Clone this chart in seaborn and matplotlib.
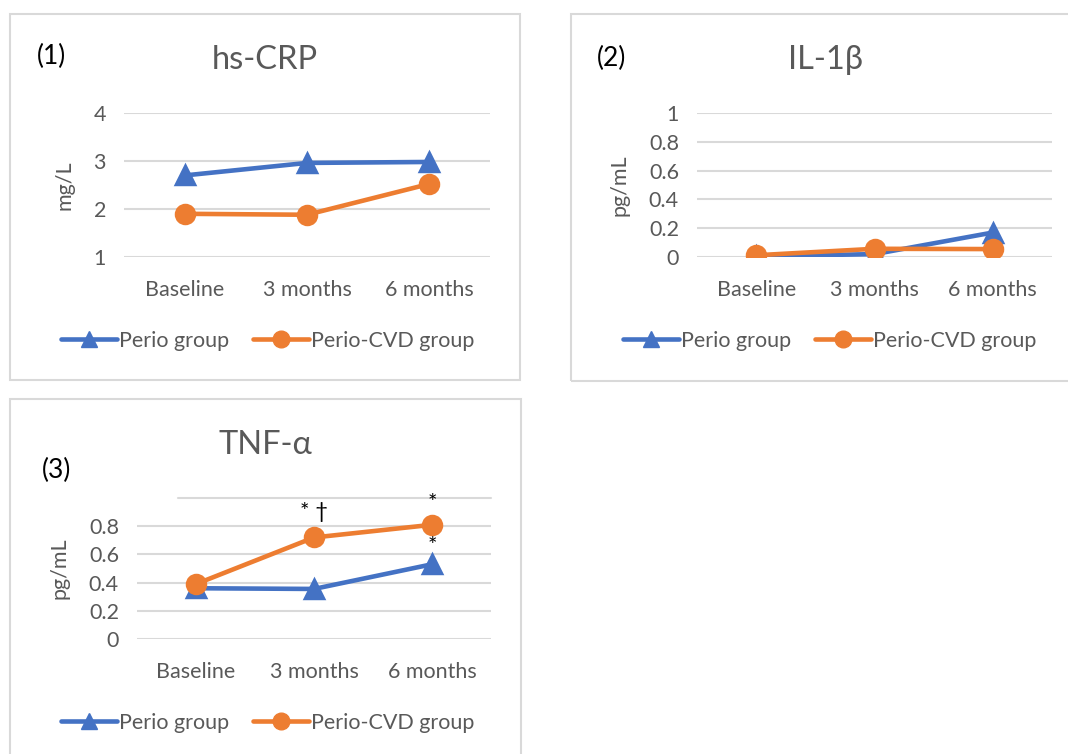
#!/usr/bin/env python3
"""
Inflammatory markers over time: Perio vs Perio-CVD group
"""

import pandas as pd
import matplotlib
matplotlib.use('Agg')
import matplotlib.pyplot as plt
import seaborn as sns
from matplotlib.lines import Line2D
from matplotlib.patches import Rectangle

sns.set_theme(style='white')
plt.rcParams['font.family'] = ['Lato', 'DejaVu Sans']

# Data
timepoints = ['Baseline', '3 months', '6 months']
groups = ['Perio group', 'Perio-CVD group']

crp_perio = [2.70, 2.96, 2.98]
crp_cvd = [1.90, 1.88, 2.52]

il1b_perio = [0.005, 0.02, 0.17]
il1b_cvd = [0.012, 0.057, 0.055]

tnf_perio = [0.36, 0.355, 0.53]
tnf_cvd = [0.39, 0.72, 0.81]

BLUE = '#4472C4'
ORANGE = '#ED7D31'
GRID = '#D9D9D9'
TXT = '#595959'

W, H = 1068, 754
FS = 15.5


def px_axes(fig, left, top, right, bottom):
    return fig.add_axes([left / W, 1 - bottom / H, (right - left) / W, (bottom - top) / H])


def long_df(perio, cvd):
    return pd.DataFrame({
        'time': timepoints * 2,
        'value': list(perio) + list(cvd),
        'group': [groups[0]] * 3 + [groups[1]] * 3,
    })


def draw_panel(fig, ax, df, yticks, yticklabels, ylim, ylabel):
    sns.pointplot(data=df, x='time', y='value', hue='group', order=timepoints,
                  hue_order=groups, palette=[BLUE, ORANGE], markers=['^', 'o'],
                  linestyles=['-', '-'], markersize=13, linewidth=3.3,
                  errorbar=None, legend=False, ax=ax)
    ax.set_xlim(-0.5, 2.5)
    ax.set_ylim(*ylim)
    ax.set_yticks(yticks)
    ax.set_yticklabels(yticklabels)
    ax.yaxis.grid(True, color=GRID, linewidth=1.5)
    ax.set_axisbelow(True)
    for s in ax.spines.values():
        s.set_visible(False)
    ax.tick_params(axis='x', length=0, pad=16.5, labelsize=FS, labelcolor=TXT)
    ax.tick_params(axis='y', length=0, pad=13, labelsize=FS, labelcolor=TXT)
    ax.set_xlabel('')
    ax.set_ylabel(ylabel, fontsize=FS, color=TXT, labelpad=14)
    for line in ax.lines:
        line.set_solid_capstyle('round')


def panel_box(fig, left, top, right, bottom):
    fig.patches.append(Rectangle((left / W, 1 - bottom / H), (right - left) / W,
                                 (bottom - top) / H, transform=fig.transFigure,
                                 fill=False, edgecolor=GRID, linewidth=1.5))


def legend(fig, cx, cy):
    handles = [
        Line2D([], [], color=BLUE, marker='^', markersize=12, linewidth=3.3),
        Line2D([], [], color=ORANGE, marker='o', markersize=12, linewidth=3.3),
    ]
    fig.legend(handles, groups, loc='center', bbox_to_anchor=(cx / W, 1 - cy / H),
               ncol=2, frameon=False, fontsize=FS, handlelength=2.6,
               handletextpad=0.1, columnspacing=1.1, labelcolor=TXT)


fig = plt.figure(figsize=(W / 100, H / 100), dpi=100)

# Panel boxes
panel_box(fig, 10, 14, 520, 380)
panel_box(fig, 571, 14, 1090, 381)
panel_box(fig, 10, 399, 521, 770)

# (1) hs-CRP
ax1 = px_axes(fig, 124, 113, 490, 257)
draw_panel(fig, ax1, long_df(crp_perio, crp_cvd), [1, 2, 3, 4], ['1', '2', '3', '4'], (1, 4), 'mg/L')
fig.text(52 / W, 1 - 56 / H, '(1)', fontsize=19, color='black', ha='center', va='center')
fig.text(265 / W, 1 - 60 / H, 'hs-CRP', fontsize=23.5, color=TXT, ha='center', va='center')
legend(fig, 268, 341)

# (2) IL-1β
ax2 = px_axes(fig, 697, 113, 1052, 257)
yt = [0, 0.2, 0.4, 0.6, 0.8, 1]
draw_panel(fig, ax2, long_df(il1b_perio, il1b_cvd), yt, ['0', '0.2', '0.4', '0.6', '0.8', '1'], (0, 1), 'pg/mL')
fig.text(612 / W, 1 - 58 / H, '(2)', fontsize=19, color='black', ha='center', va='center')
fig.text(825 / W, 1 - 60 / H, 'IL-1β', fontsize=23.5, color=TXT, ha='center', va='center')
legend(fig, 830, 341)

# (3) TNF-α
ax3 = px_axes(fig, 137, 498, 491, 639)
yt3 = [0, 0.2, 0.4, 0.6, 0.8]
draw_panel(fig, ax3, long_df(tnf_perio, tnf_cvd), yt3, ['0', '0.2', '0.4', '0.6', '0.8'], (0, 1), 'pg/mL')
ax3.axhline(1.0, xmin=(178 - 137) / (491 - 137), xmax=1, color=GRID, linewidth=1.5, clip_on=False, zorder=0)
fig.text(57 / W, 1 - 470 / H, '(3)', fontsize=19, color='black', ha='center', va='center')
fig.text(265 / W, 1 - 445 / H, 'TNF-α', fontsize=23.5, color=TXT, ha='center', va='center')
legend(fig, 268, 723)

# significance marks
ax3.annotate('* †', xy=(1, tnf_cvd[1]), xytext=(0, 18), textcoords='offset points',
             ha='center', va='center', fontsize=16, color='black')
ax3.annotate('*', xy=(2, tnf_cvd[2]), xytext=(0, 16), textcoords='offset points',
             ha='center', va='center', fontsize=16, color='black')
ax3.annotate('*', xy=(2, tnf_perio[2]), xytext=(0, 13), textcoords='offset points',
             ha='center', va='center', fontsize=16, color='black')

fig.savefig('out.png', dpi=100)
print('Saved out.png')
